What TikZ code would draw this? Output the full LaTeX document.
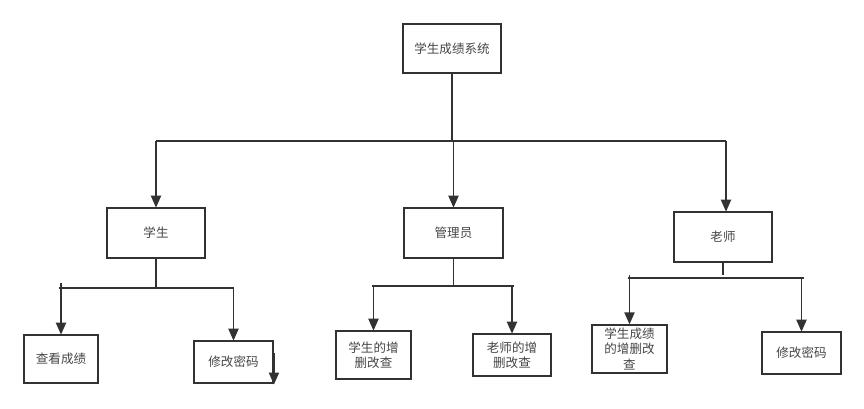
\documentclass[tikz,border=0pt]{standalone}
\usepackage{fontspec}
\setmainfont{Noto Sans CJK SC}
\usepackage{tikz}
\usetikzlibrary{arrows.meta,calc}
\definecolor{ink}{RGB}{50,50,50}
\definecolor{txt}{RGB}{70,70,70}
\tikzset{
  box/.style={draw=ink, line width=1.4pt, fill=white, inner sep=0pt,
              font=\fontsize{9.4pt}{11.6pt}\selectfont, text=txt, align=center},
  link/.style={ink, line width=1.4pt},
  flow/.style={-{Triangle[length=9pt,width=7.5pt]}, ink, line width=1.4pt, shorten >=-0.5pt},
}
\begin{document}
\begin{tikzpicture}[x=0.75pt,y=-0.75pt]
    \useasboundingbox (0,0) rectangle (864,408);
    \node[box, minimum width=73.5pt, minimum height=36.75pt] (root) at (452,48.5) {学生成绩系统};
    \node[box, minimum width=73.5pt, minimum height=37.5pt] (stu) at (156,233) {学生};
    \node[box, minimum width=74.25pt, minimum height=37.5pt] (adm) at (453.5,233) {管理员};
    \node[box, minimum width=73.5pt, minimum height=37.5pt] (tea) at (723,237) {老师};
    \node[box, minimum width=55.5pt, minimum height=36pt] (look) at (61,359) {查看成绩};
    \node[box, minimum width=59.25pt, minimum height=31.5pt] (pwstu) at (233.5,362) {修改密码};
    \node[box, minimum width=56.25pt, minimum height=36pt] (stuedit) at (373.5,355) {学生的增\\删改查};
    \node[box, minimum width=58.5pt, minimum height=31.5pt] (teaedit) at (512,355) {老师的增\\删改查};
    \node[box, minimum width=56.25pt, minimum height=36pt, yshift=1pt] (gradeedit) at (629.5,350) {学生成绩\\的增删改\\查};
    \node[box, minimum width=59.25pt, minimum height=31.5pt] (pwtea) at (801.5,353) {修改密码};
    \coordinate (topbar) at (0,141);
    \coordinate (stubar) at (0,288);
    \coordinate (admbar) at (0,286);
    \coordinate (teabar) at (0,278);
    \draw[link] (root.south) -- (root.south |- topbar);
    \draw[link] (stu.north |- topbar) -- ([xshift=2.25pt]tea.north |- topbar);
    \draw[flow] (stu.north |- topbar) -- (stu.north);
    \draw[flow] (adm.north |- topbar) -- (adm.north);
    \draw[flow] ([xshift=2.25pt]tea.north |- topbar) -- ([xshift=2.25pt]tea.north);
    \draw[link] (stu.south) -- (stu.south |- stubar);
    \draw[link] ([xshift=-1.5pt]look.north |- stubar) -- (pwstu.north |- stubar);
    \draw[flow] ([yshift=3.75pt]look.north |- stubar) -- (look.north);
    \draw[flow] (pwstu.north |- stubar) -- (pwstu.north);
    \draw[flow] ([yshift=-9.75pt]pwstu.north east) -- (pwstu.south east);
    \draw[link] (adm.south) -- (adm.south |- admbar);
    \draw[link] ([xshift=-1.5pt]stuedit.north |- admbar) -- ([xshift=1.5pt]teaedit.north |- admbar);
    \draw[flow] (stuedit.north |- admbar) -- (stuedit.north);
    \draw[flow] (teaedit.north |- admbar) -- (teaedit.north);
    \draw[link] (tea.south) -- ([yshift=2.25pt]tea.south |- teabar);
    \draw[link] ([xshift=-1pt]gradeedit.north |- teabar) -- ([xshift=1.5pt]pwtea.north |- teabar);
    \draw[flow] ([yshift=2.25pt]gradeedit.north |- teabar) -- (gradeedit.north);
    \draw[flow] (pwtea.north |- teabar) -- (pwtea.north);
\end{tikzpicture}
\end{document}
